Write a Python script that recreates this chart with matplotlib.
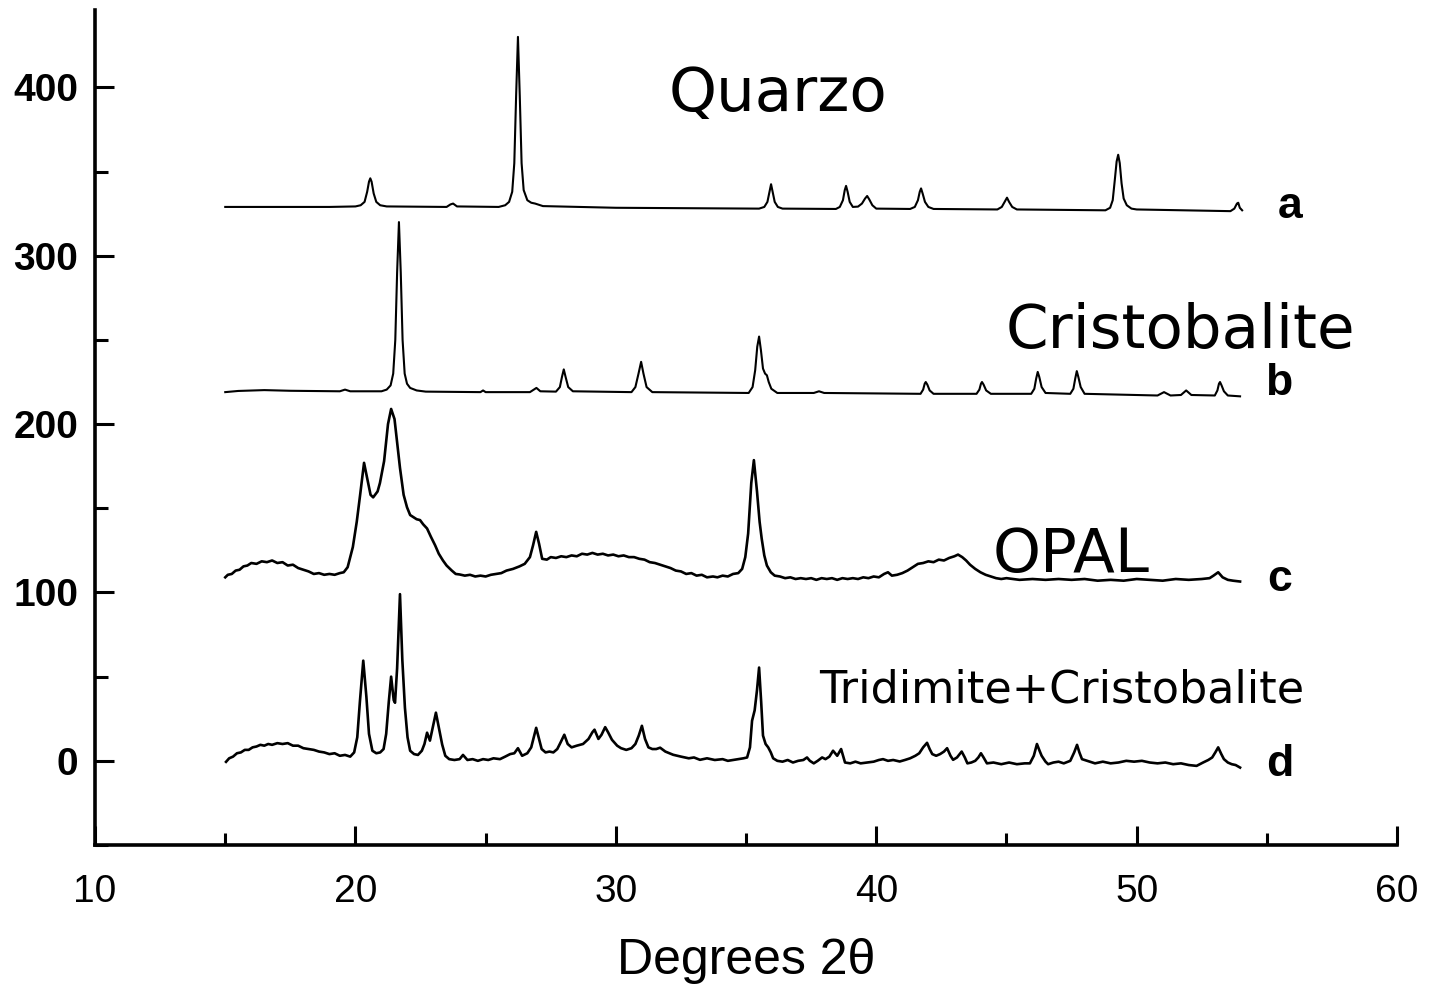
import matplotlib
matplotlib.use("Agg")
import matplotlib.pyplot as plt
from matplotlib.ticker import MultipleLocator

# a - quarzo
a_x = [15.0, 17.0, 19.0, 20.0, 20.2, 20.35, 20.45, 20.52, 20.57, 20.62, 20.7, 20.8, 20.95, 21.2,
       23.5, 23.65, 23.75, 23.9, 25.5, 25.75, 25.9, 26.02, 26.1, 26.17, 26.24, 26.31, 26.38, 26.46,
       26.6, 26.75, 26.9, 27.2, 30.0, 35.5, 35.7, 35.82, 35.9, 35.96, 36.02, 36.1, 36.22, 36.4,
       38.45, 38.6, 38.72, 38.79, 38.84, 38.9, 38.98, 39.1, 39.3, 39.45, 39.57, 39.65, 39.73, 39.85,
       40.0, 41.3, 41.48, 41.6, 41.67, 41.72, 41.78, 41.87, 42.0, 42.2, 44.65, 44.82, 44.93, 45.02,
       45.1, 45.22, 45.4, 48.8, 48.98, 49.08, 49.16, 49.23, 49.29, 49.35, 49.42, 49.5, 49.62, 49.8,
       50.0, 53.6, 53.75, 53.85, 53.9, 53.96, 54.05]
a_y = [329, 329, 329, 329.3, 330, 332, 338, 344, 346, 344, 337, 332, 330, 329.3,
       329, 330.5, 331, 329.3, 329, 330, 332, 338, 355, 395, 430, 395, 355, 339,
       333, 331.5, 331, 329.5, 328.5, 328, 329, 332, 338, 342.5, 338, 332, 329, 328,
       327.8, 329, 333, 339, 341.5, 338, 332, 329, 329.2, 331, 334, 335.5, 333.5, 330,
       328, 327.8, 329, 333, 338, 340, 337, 332, 329, 327.8, 327.5, 329, 332, 334.5,
       332, 329, 327.5, 327, 328.5, 333, 345, 356, 360, 355, 343, 334, 330, 328,
       327.5, 326.5, 328, 331, 331.5, 328.5, 327]

# b - cristobalite
b_x = [15.0, 15.5, 16.5, 17.5, 19.4, 19.6, 19.8, 21.0, 21.2, 21.35, 21.45, 21.53, 21.6, 21.67,
       21.74, 21.81, 21.89, 21.98, 22.1, 22.35, 22.7, 24.8, 24.9, 25.0, 26.7, 26.85, 26.95, 27.1,
       27.7, 27.85, 27.93, 28.0, 28.07, 28.17, 28.35, 30.6, 30.75, 30.87, 30.97, 31.06, 31.18, 31.4,
       35.1, 35.25, 35.35, 35.43, 35.5, 35.57, 35.65, 35.73, 35.8, 35.87, 35.97, 36.2, 37.6, 37.8,
       38.0, 41.7, 41.8, 41.86, 41.9, 41.96, 42.05, 42.2, 43.85, 43.96, 44.02, 44.06, 44.12, 44.22,
       44.4, 45.95, 46.07, 46.14, 46.2, 46.26, 46.35, 46.5, 47.45, 47.57, 47.64, 47.7, 47.76, 47.85,
       48.0, 50.8, 51.05, 51.3, 51.7, 51.9, 52.1, 53.0, 53.1, 53.16, 53.2, 53.26, 53.35, 53.5, 53.97]
b_y = [219, 219.7, 220.2, 219.8, 219.5, 220.5, 219.5, 219.5, 220.5, 223, 230, 250, 290, 320,
       290, 250, 230, 224, 221.5, 220, 219.3, 219, 220, 219, 219, 220.5, 221.5, 219.5,
       219.3, 222, 228, 232.5, 228, 222, 219.5, 219, 222, 230, 237, 230, 222, 219,
       218.5, 222, 232, 246, 252, 244, 233, 230, 229, 225, 221, 218.5, 218.5, 219.5,
       218.5, 218, 220.5, 224, 225, 223.5, 220, 218, 218, 220.5, 224, 225, 223.5, 220,
       218, 218, 221, 227, 231, 228, 222, 218.5, 218, 221, 227, 231.5, 228, 222,
       218, 217, 219, 217, 217.3, 220, 217.3, 217, 220, 224, 225, 223, 219.5, 217, 216.5]

# c - opal
c_x = [15.0, 15.1, 15.25, 15.4, 15.55, 15.7, 15.85, 16.0, 16.2, 16.4, 16.6, 16.8, 17.0, 17.2,
       17.4, 17.6, 17.8, 18.0, 18.2, 18.4, 18.6, 18.8, 19.0, 19.2, 19.4, 19.55, 19.7, 19.9,
       20.05, 20.18, 20.33, 20.45, 20.58, 20.68, 20.85, 20.94, 21.1, 21.25, 21.37, 21.5, 21.71, 21.85,
       21.98, 22.1, 22.2, 22.35, 22.48, 22.6, 22.75, 22.9, 23.06, 23.2, 23.36, 23.5, 23.7, 23.85,
       24.0, 24.2, 24.4, 24.6, 24.8, 25.0, 25.2, 25.4, 25.6, 25.8, 26.05, 26.3, 26.5, 26.7,
       26.82, 26.94, 27.05, 27.17, 27.35, 27.5, 27.7, 27.9, 28.1, 28.3, 28.5, 28.7, 28.9, 29.1,
       29.3, 29.5, 29.7, 29.9, 30.1, 30.3, 30.5, 30.7, 30.9, 31.1, 31.3, 31.5, 31.7, 31.9,
       32.1, 32.3, 32.5, 32.7, 32.9, 33.1, 33.3, 33.5, 33.73, 33.9, 34.1, 34.3, 34.5, 34.7,
       34.85, 34.97, 35.08, 35.2, 35.3, 35.42, 35.52, 35.6, 35.7, 35.8, 35.95, 36.1, 36.3, 36.5,
       36.7, 36.9, 37.1, 37.3, 37.5, 37.7, 37.9, 38.1, 38.3, 38.5, 38.7, 38.9, 39.1, 39.3,
       39.5, 39.7, 39.9, 40.1, 40.3, 40.45, 40.6, 40.8, 41.0, 41.2, 41.4, 41.6, 41.8, 42.0,
       42.2, 42.4, 42.6, 42.8, 43.0, 43.14, 43.3, 43.45, 43.6, 43.8, 44.0, 44.2, 44.4, 44.6,
       44.8, 45.0, 45.5, 46.0, 46.5, 47.0, 47.5, 48.0, 48.5, 49.0, 49.5, 50.0, 50.5, 51.0,
       51.5, 52.0, 52.5, 52.8, 52.95, 53.13, 53.3, 53.5, 53.7, 53.97]
c_y = [109, 110.5, 111, 113, 113.5, 115.5, 116, 117.5, 117, 118.5, 118, 119, 117.5, 118,
       116, 116.5, 114.5, 113.5, 112.5, 111, 111.5, 110.5, 111, 110.5, 111.5, 112, 115, 127,
       142, 158, 177, 168, 158, 156.5, 160, 165, 178, 200, 209, 203, 174, 158,
       150.6, 146, 145, 143.5, 143, 140.5, 138, 133, 128, 123, 119, 116, 113, 111,
       110.7, 110, 110.5, 109.5, 110, 109.5, 110.5, 111, 111.5, 113, 114, 115.5, 117, 121,
       128, 136, 129, 120, 119.5, 121, 120.5, 121.5, 121, 122, 121.5, 123, 122.5, 123.5,
       122.5, 123, 122, 122.5, 121.5, 122, 121, 121, 120, 119.5, 118, 117.5, 116.5, 115.5,
       114.5, 113, 112.5, 111, 111.5, 110, 110.5, 109, 109.5, 109, 110, 109.5, 111, 111.5,
       114, 121, 135, 165, 178.6, 160, 142, 132, 122, 116, 112, 110, 109.5, 108.5,
       109, 108, 108.5, 108, 108.5, 107.5, 108.5, 108, 108.5, 107.5, 108.5, 108, 108.5, 108,
       109, 108.5, 109.5, 109, 111, 112, 110, 110.5, 111.5, 113, 115, 117, 117.5, 118.5,
       118, 119.5, 119, 120.5, 121.5, 122.5, 121, 119, 116.5, 114, 112, 110.5, 109.5, 108.5,
       108, 108.5, 107.5, 108, 107.5, 108, 107.5, 108, 107, 107.5, 107, 108, 107.5, 107,
       108, 107.5, 108, 108.5, 110, 112, 109, 107.5, 107, 106.5]

# d - tridimite + cristobalite
d_x = [15.03, 15.15, 15.3, 15.45, 15.6, 15.75, 15.9, 16.05, 16.2, 16.35, 16.5, 16.65, 16.8, 17.0,
       17.2, 17.4, 17.6, 17.8, 18.0, 18.2, 18.4, 18.6, 18.8, 19.0, 19.2, 19.4, 19.6, 19.8,
       19.95, 20.07, 20.17, 20.3, 20.42, 20.52, 20.65, 20.8, 20.95, 21.08, 21.18, 21.28, 21.37, 21.47,
       21.52, 21.6, 21.71, 21.8, 21.9, 22.0, 22.1, 22.25, 22.4, 22.55, 22.65, 22.75, 22.86, 22.97,
       23.09, 23.2, 23.33, 23.45, 23.6, 23.8, 24.0, 24.13, 24.3, 24.5, 24.7, 24.9, 25.1, 25.3,
       25.55, 25.75, 25.94, 26.1, 26.24, 26.4, 26.6, 26.75, 26.85, 26.94, 27.05, 27.15, 27.3, 27.45,
       27.6, 27.75, 27.88, 28.02, 28.15, 28.3, 28.5, 28.74, 28.95, 29.1, 29.18, 29.33, 29.45, 29.59,
       29.7, 29.85, 30.05, 30.2, 30.4, 30.6, 30.75, 30.88, 31.0, 31.12, 31.25, 31.4, 31.55, 31.7,
       31.9, 32.2, 32.5, 32.8, 33.0, 33.23, 33.5, 33.8, 34.1, 34.3, 34.5, 34.7, 34.9, 35.04,
       35.15, 35.23, 35.33, 35.42, 35.5, 35.58, 35.65, 35.75, 35.85, 35.95, 36.04, 36.2, 36.4, 36.6,
       36.8, 37.0, 37.2, 37.34, 37.45, 37.6, 37.75, 37.92, 38.05, 38.2, 38.34, 38.5, 38.65, 38.8,
       39.0, 39.2, 39.4, 39.65, 39.9, 40.1, 40.26, 40.45, 40.65, 40.9, 41.1, 41.3, 41.5, 41.65,
       41.8, 41.95, 42.05, 42.15, 42.3, 42.45, 42.6, 42.72, 42.85, 42.95, 43.1, 43.28, 43.4, 43.5,
       43.65, 43.8, 43.92, 44.02, 44.12, 44.25, 44.5, 44.8, 45.1, 45.4, 45.7, 45.9, 46.05, 46.17,
       46.27, 46.35, 46.5, 46.6, 46.8, 47.0, 47.2, 47.45, 47.6, 47.71, 47.8, 47.9, 48.1, 48.4,
       48.7, 49.0, 49.3, 49.6, 49.9, 50.2, 50.5, 50.8, 51.1, 51.4, 51.7, 52.0, 52.3, 52.55,
       52.75, 52.9, 53.02, 53.13, 53.25, 53.35, 53.5, 53.65, 53.8, 53.97]
d_y = [-0.6, 1.5, 2.5, 4.5, 5, 6.5, 6.5, 8, 8.5, 9.5, 9, 10, 9.5, 10.5,
       10, 10.5, 9, 9, 7.5, 7, 6.5, 5.5, 5, 4, 4.5, 3, 3.5, 2.5,
       5, 14, 35, 59.5, 38, 16, 6, 4.5, 5, 7, 16, 35, 50, 36,
       34.5, 55, 99, 60, 31.5, 14, 6, 4, 3.5, 6, 10, 16.7, 12, 20,
       28.6, 20, 9.7, 3, 1, 0.5, 1, 3.5, 0.5, 1, 0, 1, 0.5, 1.5,
       1, 2.5, 4, 4.5, 7.5, 3, 4.5, 8, 14, 19.6, 13, 7, 5, 5.5,
       5, 7, 11, 15.5, 10, 8, 9, 10, 13, 17, 18.5, 13, 15.5, 20,
       17, 12.5, 9, 7.5, 6.5, 7.5, 10, 15, 20.8, 13, 8, 7, 7, 7.8,
       5.5, 3.6, 2.5, 1.5, 2, 0.6, 1.5, 0.5, 1, 0, 0.5, 1, 1.5, 2,
       8, 23.8, 30, 42, 55.4, 35, 15, 10, 8, 5, 1.5, 0, -0.5, 0.5,
       -1, 0, 0.5, 2, 0, -1.5, 0, 2, 1, 2.5, 6, 3, 7, -1,
       -1.5, -0.5, -1.5, -1, -0.5, 0.5, 1, 0, 0.5, -0.4, 0.5, 1.5, 3, 4.5,
       8, 10.7, 7, 4, 3, 4, 5.5, 7.5, 3, 0.6, 2, 5.5, 2, -1.5,
       -1, 0, 2, 4.5, 2, -1.5, -1, -2, -1, -2, -1.5, -1.5, 3, 10,
       6, 3, -0.5, -2, -1, -0.5, -1.5, 0, 5, 9.5, 5, 1, 0, -1.5,
       -0.5, -1.5, -1, 0, -0.5, 0, -1, -1.5, -1, -2, -1.5, -2.5, -3, -1,
       0.5, 2, 5, 8, 4, 1, -1, -2, -2.5, -4]

phase_names = ["Quarzo", "Cristobalite", "OPAL", "Tridimite+Cristobalite"]
curve_letters = ["a", "b", "c", "d"]

fig = plt.figure(figsize=(14.4, 9.96), dpi=100)
ax = fig.add_axes([0.066, 0.1516, 0.9042, 0.8384])

ax.plot(a_x, a_y, color="black", lw=1.5)
ax.plot(b_x, b_y, color="black", lw=1.5)
ax.plot(c_x, c_y, color="black", lw=1.9)
ax.plot(d_x, d_y, color="black", lw=1.9)

ax.set_xlim(10, 60)
ax.set_ylim(-50, 446)

ax.spines["top"].set_visible(False)
ax.spines["right"].set_visible(False)
ax.spines["left"].set_linewidth(2.6)
ax.spines["bottom"].set_linewidth(2.6)

ax.xaxis.set_major_locator(MultipleLocator(10))
ax.xaxis.set_minor_locator(MultipleLocator(5))
ax.yaxis.set_major_locator(MultipleLocator(100))
ax.yaxis.set_minor_locator(MultipleLocator(50))
ax.set_yticks([0, 100, 200, 300, 400])

ax.tick_params(axis="both", which="both", direction="in", width=2.2)
ax.tick_params(axis="both", which="major", length=14)
ax.tick_params(axis="both", which="minor", length=9)
ax.tick_params(axis="x", which="major", pad=21)
ax.tick_params(axis="y", which="major", pad=12)

for lab in ax.get_xticklabels():
    lab.set_fontfamily("Liberation Sans")
    lab.set_fontsize(28)
for lab in ax.get_yticklabels():
    lab.set_fontfamily("Liberation Sans")
    lab.set_fontsize(28)
    lab.set_fontweight("bold")

ax.set_xlabel("Degrees 2θ", fontsize=36, fontfamily="Liberation Sans", labelpad=20)

ax.text(36.23, 396, phase_names[0], fontsize=44, ha="center", va="center", family="DejaVu Sans")
ax.text(51.67, 255, phase_names[1], fontsize=44, ha="center", va="center", family="DejaVu Sans")
ax.text(47.48, 122, phase_names[2], fontsize=44, ha="center", va="center", family="DejaVu Sans")
ax.text(47.13, 42, phase_names[3], fontsize=32, ha="center", va="center", family="DejaVu Sans")

letter_pos = [(55.9, 329), (55.45, 224), (55.5, 108), (55.5, -2)]
for (lx, ly), s in zip(letter_pos, curve_letters):
    ax.text(lx, ly, s, fontsize=32, ha="center", va="center", family="Liberation Sans", fontweight="bold")

fig.savefig("out.png", dpi=100)
